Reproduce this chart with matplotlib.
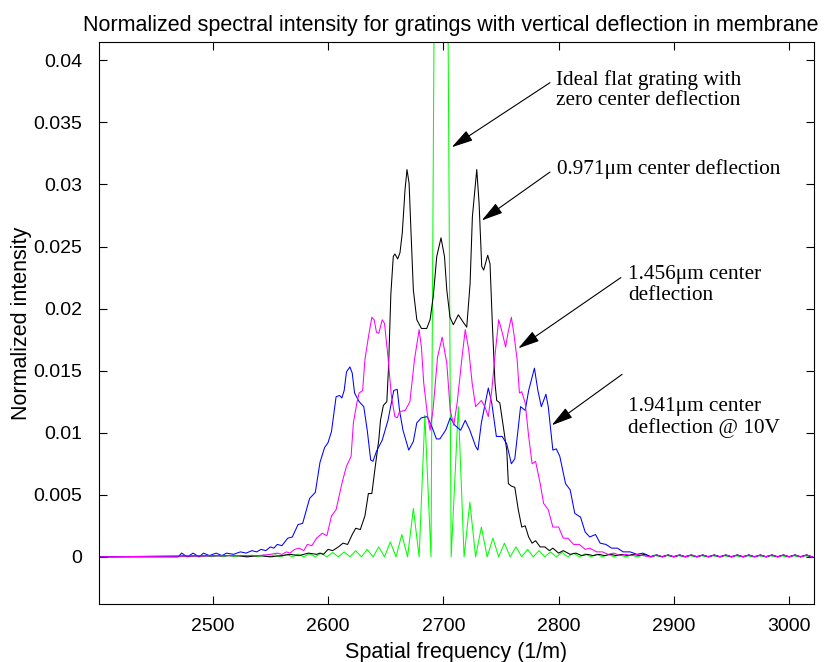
import matplotlib
matplotlib.use('Agg')
import matplotlib.pyplot as plt
from matplotlib.ticker import FormatStrFormatter

start_x = [2400]
start_y = [0.0]

tail_x = [2880, 2885, 2890, 2895, 2900, 2905, 2910, 2915, 2920, 2925, 2930, 2935, 2940, 2945, 2950,
          2955, 2960, 2965, 2970, 2975, 2980, 2985, 2990, 2995, 3000, 3005, 3010, 3015, 3020]
tail_y = [0.0, 0.00015, 0.0, 0.00015, 0.0, 0.00015, 0.0, 0.00015, 0.0, 0.00015, 0.0, 0.00015, 0.0, 0.00015, 0.0,
          0.00015, 0.0, 0.00015, 0.0, 0.00015, 0.0, 0.00015, 0.0, 0.00015, 0.0, 0.00015, 0.0, 0.00015, 0.0]

# ideal flat grating (green)
green_x = [2400, 2470, 2474, 2479, 2484, 2489, 2494, 2499, 2504, 2509, 2514, 2519, 2524, 2529, 2534,
           2539, 2544, 2549, 2554, 2559, 2564, 2569, 2574, 2579, 2584, 2589, 2594, 2599, 2604, 2609,
           2614, 2619, 2624, 2629, 2634, 2639, 2644, 2649, 2654, 2659, 2664, 2669, 2674, 2679, 2684,
           2689.3, 2698, 2706.8, 2713, 2718, 2723, 2728, 2733, 2738, 2743, 2748, 2753, 2758, 2763,
           2768, 2773, 2778, 2783, 2788, 2793, 2798, 2803, 2808, 2813, 2818, 2823, 2828, 2833, 2838,
           2843, 2848, 2853, 2858, 2863, 2868, 2873, 2878, 2883, 2888, 2893, 2898, 2903, 2908, 2913,
           2918, 2923, 2928, 2933, 2938, 2943, 2948, 2953, 2958, 2963, 2968, 2973, 2978, 2983, 2988,
           2993, 2998, 3003, 3008, 3013, 3018, 3022]
green_y = [0.0, 0.0, 0.0001, 0.0, 0.0001, 0.0, 0.0001, 0.0, 0.0001, 0.0, 0.00012, 0.0, 0.00013, 0.0, 0.00014,
           0.0, 0.00015, 0.0, 0.00017, 0.0, 0.0002, 0.0, 0.00022, 0.0, 0.00025, 0.0, 0.0003, 0.0, 0.00035, 0.0,
           0.0004, 0.0, 0.0005, 0.0, 0.0006, 0.0, 0.0008, 0.0, 0.0012, 0.0, 0.0018, 0.0, 0.0039, 0.0, 0.0114,
           0.0, 0.14, 0.0, 0.0121, 0.0, 0.0044, 0.0, 0.0024, 0.0, 0.0015, 0.0, 0.0011, 0.0, 0.0008,
           0.0, 0.0006, 0.0, 0.0005, 0.0, 0.0004, 0.0, 0.00035, 0.0, 0.0003, 0.0, 0.00025, 0.0, 0.00022, 0.0,
           0.0002, 0.0, 0.00018, 0.0, 0.00016, 0.0, 0.00015, 0.0, 0.00014, 0.0, 0.00013, 0.0, 0.00012, 0.0, 0.00012,
           0.0, 0.00011, 0.0, 0.00011, 0.0, 0.0001, 0.0, 0.0001, 0.0, 0.0001, 0.0, 0.0001, 0.0, 0.0001, 0.0,
           0.0001, 0.0, 0.0001, 0.0, 0.0001, 0.0, 0.0]

# 0.971 um deflection (black)
black_x = [2520, 2530, 2540, 2550, 2560, 2567, 2575, 2583, 2590, 2593, 2596, 2600, 2604, 2609, 2613,
           2617, 2621, 2624, 2628, 2632, 2635, 2638, 2641, 2644, 2645.5, 2648, 2651, 2652.5, 2654.5, 2656.6,
           2658, 2660.4, 2662.4, 2664.4, 2666.8, 2668.5, 2670.3, 2672, 2674, 2677, 2681, 2685.6, 2688.5,
           2691.3, 2694.3, 2698, 2701, 2703, 2705.8, 2708.7, 2713, 2717.3, 2720.3, 2723.2, 2725.2, 2729,
           2731, 2733.3, 2735, 2738.5, 2740.5, 2742.5, 2744.8, 2746.3, 2749, 2752, 2755, 2756.4, 2759,
           2762, 2765, 2768, 2771, 2774, 2777, 2780, 2784, 2788, 2792, 2795, 2800, 2804, 2810, 2815,
           2820, 2825, 2830, 2835, 2840, 2845, 2850, 2855, 2860, 2865, 2870, 2875]
black_y = [0.0001, 0.0, 0.0001, 0.0, 0.0001, 0.0002, 0.0001, 0.0003, 0.0002, 0.0003, 0.0002, 0.0006, 0.0005, 0.0008, 0.0011,
           0.0010, 0.0018, 0.0023, 0.0022, 0.0033, 0.0051, 0.0051, 0.0073, 0.0094, 0.0110, 0.0122, 0.0125, 0.0153, 0.0212, 0.0242,
           0.0244, 0.0240, 0.0245, 0.0261, 0.0296, 0.0312, 0.0301, 0.0261, 0.0215, 0.0191, 0.0184, 0.0184, 0.0191,
           0.0210, 0.0242, 0.0257, 0.0242, 0.0215, 0.0193, 0.0187, 0.0195, 0.0189, 0.0185, 0.0220, 0.0274, 0.0312,
           0.0285, 0.0234, 0.0231, 0.0243, 0.0236, 0.0188, 0.0140, 0.0126, 0.0124, 0.0105, 0.0086, 0.0059, 0.0057,
           0.0056, 0.0038, 0.0024, 0.0025, 0.0016, 0.0011, 0.0013, 0.0008, 0.0008, 0.0005, 0.0007, 0.0003, 0.0005, 0.0002, 0.0003,
           0.0001, 0.0002, 0.0001, 0.0002, 0.0001, 0.0002, 0.0001, 0.0002, 0.0001, 0.0002, 0.0001, 0.0002]

# 1.941 um deflection (blue)
blue_x = [2470, 2473, 2478, 2483, 2488, 2492, 2497, 2503, 2508, 2512, 2518, 2524, 2529, 2534, 2538,
          2542, 2546, 2550, 2553, 2556, 2560, 2565, 2569, 2574, 2578, 2584, 2589, 2593, 2597, 2600,
          2603, 2607, 2610, 2612, 2614, 2616, 2619, 2621, 2623, 2627, 2631, 2634, 2637, 2639, 2642,
          2647, 2652, 2657, 2660, 2662, 2665, 2670, 2674, 2677, 2681, 2686, 2690, 2694, 2697, 2702,
          2706, 2710, 2715, 2719, 2723, 2728, 2730, 2733, 2739, 2742, 2746, 2751, 2755, 2759, 2762,
          2767, 2771, 2774, 2779, 2782, 2785, 2789, 2791, 2795, 2798, 2801, 2806, 2810, 2814, 2819,
          2823, 2827, 2832, 2836, 2841, 2846, 2851, 2856, 2862, 2868, 2873]
blue_y = [0.0, 0.0003, 0.0, 0.0003, 0.0, 0.0003, 0.0001, 0.0003, 0.0001, 0.0003, 0.0002, 0.0004, 0.0003, 0.0005, 0.0004,
          0.0006, 0.0005, 0.0008, 0.0007, 0.0010, 0.0009, 0.0015, 0.0016, 0.0026, 0.0027, 0.0047, 0.0052, 0.0076, 0.0088, 0.0092,
          0.0101, 0.0129, 0.0130, 0.0128, 0.0134, 0.0149, 0.0153, 0.0148, 0.0132, 0.0125, 0.0121, 0.0102, 0.0078, 0.0077, 0.0085,
          0.0094, 0.0110, 0.0134, 0.0135, 0.0118, 0.0102, 0.0086, 0.0093, 0.0108, 0.0112, 0.0113, 0.0105, 0.0095, 0.0095, 0.0102,
          0.0112, 0.0106, 0.0102, 0.0110, 0.0102, 0.0089, 0.0086, 0.0108, 0.0136, 0.0124, 0.0097, 0.0097, 0.0091, 0.0075, 0.0079,
          0.0121, 0.0118, 0.0134, 0.0152, 0.0134, 0.0121, 0.0131, 0.0121, 0.0086, 0.0087, 0.0081, 0.0059, 0.0054, 0.0035, 0.0032,
          0.0020, 0.0016, 0.0018, 0.0011, 0.0010, 0.0007, 0.0007, 0.0004, 0.0004, 0.0002, 0.0003]

# 1.456 um deflection (magenta)
magenta_x = [2520, 2530, 2540, 2550, 2556, 2560, 2564, 2567, 2571, 2575, 2579, 2582, 2586, 2590, 2595,
             2599, 2603, 2607, 2612, 2616, 2620, 2622, 2625, 2627, 2630, 2632, 2635, 2638, 2640, 2642,
             2644, 2647, 2649, 2652, 2655, 2658, 2660, 2662, 2667, 2671, 2675, 2679, 2681, 2683, 2686,
             2688.5, 2691, 2695, 2699, 2703, 2706, 2709, 2712, 2716, 2719, 2722, 2725, 2728, 2730, 2733,
             2736, 2739, 2742, 2745, 2748, 2751, 2754, 2756, 2759, 2761, 2764, 2766, 2768, 2771, 2774,
             2777, 2780, 2784, 2787, 2791, 2795, 2800, 2804, 2808, 2813, 2818, 2823, 2827, 2833, 2838,
             2843, 2848, 2853, 2858, 2863, 2868, 2873]
magenta_y = [0.0001, 0.0001, 0.0001, 0.0002, 0.0003, 0.0002, 0.0004, 0.0003, 0.0006, 0.0007, 0.0005, 0.0010, 0.0009, 0.0015, 0.0019,
             0.0017, 0.0033, 0.0038, 0.0059, 0.0073, 0.0081, 0.0108, 0.0124, 0.0132, 0.0134, 0.0159, 0.0177, 0.0193, 0.0191, 0.0181,
             0.0180, 0.0191, 0.0188, 0.0161, 0.0129, 0.0113, 0.0112, 0.0117, 0.0118, 0.0125, 0.0159, 0.0183, 0.0169, 0.0140, 0.0116,
             0.0102, 0.0118, 0.0161, 0.0177, 0.0156, 0.0118, 0.0106, 0.0124, 0.0159, 0.0183, 0.0167, 0.0140, 0.0121, 0.0123, 0.0126,
             0.0121, 0.0113, 0.0134, 0.0164, 0.0191, 0.0181, 0.0169, 0.0180, 0.0193, 0.0181, 0.0159, 0.0132, 0.0133, 0.0124, 0.0097,
             0.0075, 0.0077, 0.0059, 0.0043, 0.0038, 0.0024, 0.0024, 0.0015, 0.0015, 0.0010, 0.0010, 0.0006, 0.0007, 0.0004, 0.0004,
             0.0002, 0.0003, 0.0001, 0.0002, 0.0001, 0.0002, 0.0001]

fig = plt.figure(figsize=(8.26, 6.62), dpi=100)
ax = fig.add_axes([0.1199, 0.0876, 0.8656, 0.849])

lw = 0.75
ax.plot(green_x, green_y, color=(0, 1, 0), lw=lw)
ax.plot(start_x + black_x + tail_x, start_y + black_y + tail_y, color='k', lw=lw)
ax.plot(start_x + blue_x + tail_x, start_y + blue_y + tail_y, color=(0, 0, 1), lw=lw)
ax.plot(start_x + magenta_x + tail_x, start_y + magenta_y + tail_y, color=(1, 0, 1), lw=lw)

ax.set_xlim(2401.4, 3021.5)
ax.set_ylim(-0.0038, 0.04148)
ax.set_xticks([2500, 2600, 2700, 2800, 2900, 3000])
ax.set_yticks([0, 0.005, 0.01, 0.015, 0.02, 0.025, 0.03, 0.035, 0.04])
ax.yaxis.set_major_formatter(FormatStrFormatter('%g'))
ax.tick_params(direction='in', top=True, right=True, length=6, width=0.8, labelsize=14)
ax.tick_params(axis='y', pad=12)
ax.tick_params(axis='x', pad=10)
for lab in ax.get_xticklabels() + ax.get_yticklabels():
    lab.set_family('Liberation Sans')
for s in ax.spines.values():
    s.set_linewidth(0.8)

ax.set_xlabel('Spatial frequency (1/m)', family='Liberation Sans', fontsize=15.5, labelpad=5)
ax.set_ylabel('Normalized intensity', family='Liberation Sans', fontsize=15.5, labelpad=1)
ax.set_title('Normalized spectral intensity for gratings with vertical deflection in membrane',
             family='Liberation Sans', fontsize=15.5, pad=8, x=0.492)

arrow = dict(arrowstyle='-|>,head_length=1.1,head_width=0.3', color='k', lw=0.8,
             mutation_scale=12, shrinkA=0, shrinkB=0)
serif = dict(family='Liberation Serif', fontsize=15.3, ha='left', va='center', linespacing=1.12)

ax.annotate('', xy=(2707.3, 0.0330), xytext=(2792.5, 0.0382), arrowprops=arrow)
ax.text(2797.7, 0.0376, 'Ideal flat grating with\nzero center deflection', **serif)

ax.annotate('', xy=(2733.3, 0.0271), xytext=(2792.5, 0.0310), arrowprops=arrow)
ax.text(2798.5, 0.03125, '0.971\u03bcm center deflection', **serif)

ax.annotate('', xy=(2765, 0.0168), xytext=(2854, 0.0225), arrowprops=arrow)
ax.text(2860, 0.0219, '1.456\u03bcm center\ndeflection', **serif)

ax.annotate('', xy=(2794, 0.0106), xytext=(2855, 0.0147), arrowprops=arrow)
ax.text(2860, 0.0112, '1.941\u03bcm center\ndeflection @ 10V', **serif)

fig.savefig('out.png', dpi=100)
